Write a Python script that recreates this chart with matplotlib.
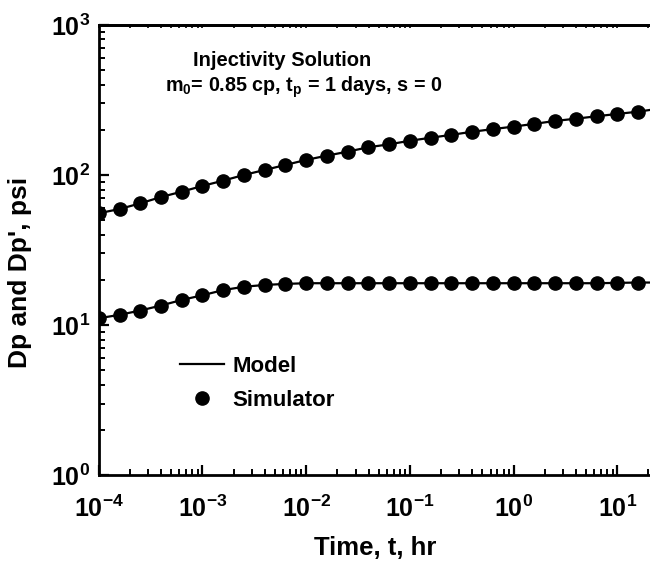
import numpy as np
import matplotlib
matplotlib.use("Agg")
import matplotlib.pyplot as plt

plt.rcParams['font.family'] = ['Liberation Sans', 'DejaVu Sans']
plt.rcParams['font.weight'] = 'bold'
plt.rcParams['mathtext.fontset'] = 'custom'
plt.rcParams['mathtext.rm'] = 'Liberation Sans:bold'
plt.rcParams['mathtext.it'] = 'Liberation Sans:bold'
plt.rcParams['mathtext.bf'] = 'Liberation Sans:bold'

# simulator points, every 0.2 log cycle from 1e-4 hr
log_t = [-4.0, -3.8, -3.6, -3.4, -3.2, -3.0, -2.8, -2.6, -2.4, -2.2, -2.0,
         -1.8, -1.6, -1.4, -1.2, -1.0, -0.8, -0.6, -0.4, -0.2, 0.0,
         0.2, 0.4, 0.6, 0.8, 1.0, 1.2]
sim_dp = [55.6, 59.3, 64.7, 71.3, 77.4, 84.5, 91.7, 100, 108, 116.6, 126,
          134.5, 143, 153, 160, 169, 177, 185, 194, 202, 210,
          219, 229, 237, 246, 255, 264]
sim_der = [11.1, 11.7, 12.5, 13.5, 14.7, 15.8, 17.1, 18.0, 18.5, 18.8, 19.0,
           19.0, 19.0, 19.0, 19.0, 19.0, 19.0, 19.0, 19.0, 19.0, 19.0,
           19.0, 19.0, 19.0, 19.0, 19.1, 19.2]

# model curve (same times plus the end of the axis)
model_log_t = log_t + [1.33]
model_dp = sim_dp + [272]
model_der = sim_der + [19.2]

t_sim = 10.0 ** np.array(log_t)
t_mod = 10.0 ** np.array(model_log_t)

fig = plt.figure(figsize=(6.5, 5.65), dpi=100)
ax = fig.add_axes([0.152, 0.159, 0.85, 0.797])

ax.plot(t_mod, model_dp, color='black', lw=1.6, label='Model')
ax.plot(t_mod, model_der, color='black', lw=1.6)
ax.plot(t_sim, sim_dp, 'o', color='black', ms=9.5, label='Simulator')
ax.plot(t_sim, sim_der, 'o', color='black', ms=9.5)

ax.set_xscale('log')
ax.set_yscale('log')
ax.set_xlim(1e-4, 21.3)
ax.set_ylim(1, 1000)

for s in ['left', 'bottom', 'top']:
    ax.spines[s].set_linewidth(2)
ax.spines['right'].set_visible(False)

ax.tick_params(which='major', direction='in', length=7, width=1.6,
               labelsize=18, pad=6)
ax.tick_params(which='minor', direction='in', length=4.5, width=1.4)
ax.tick_params(axis='x', which='major', pad=15)

top = ax.secondary_xaxis('top')
top.tick_params(which='both', direction='in', length=2.5, width=1.2, labeltop=False)
top.spines['top'].set_linewidth(2)

ax.set_xlabel('Time, t, hr', fontsize=18.5, fontweight='bold', labelpad=10)
ax.set_ylabel("Dp and Dp', psi", fontsize=19, fontweight='bold')
ax.yaxis.set_label_coords(-0.12, 0.45)

ax.text(0.171, 0.92, 'Injectivity Solution', transform=ax.transAxes,
        ha='left', va='center', fontsize=14.5, fontweight='bold')
ax.text(0.12, 0.862, r"m$_0$= 0.85 cp, t$_p$ = 1 days, s = 0", transform=ax.transAxes,
        ha='left', va='center', fontsize=14.2, fontweight='bold')

ax.legend(loc='upper left', bbox_to_anchor=(0.147, 0.265), frameon=False,
          prop={'size': 16, 'weight': 'bold'}, handlelength=2.0,
          handletextpad=0.35, labelspacing=0.6, borderpad=0,
          borderaxespad=0)

fig.savefig('out.png', dpi=100)
